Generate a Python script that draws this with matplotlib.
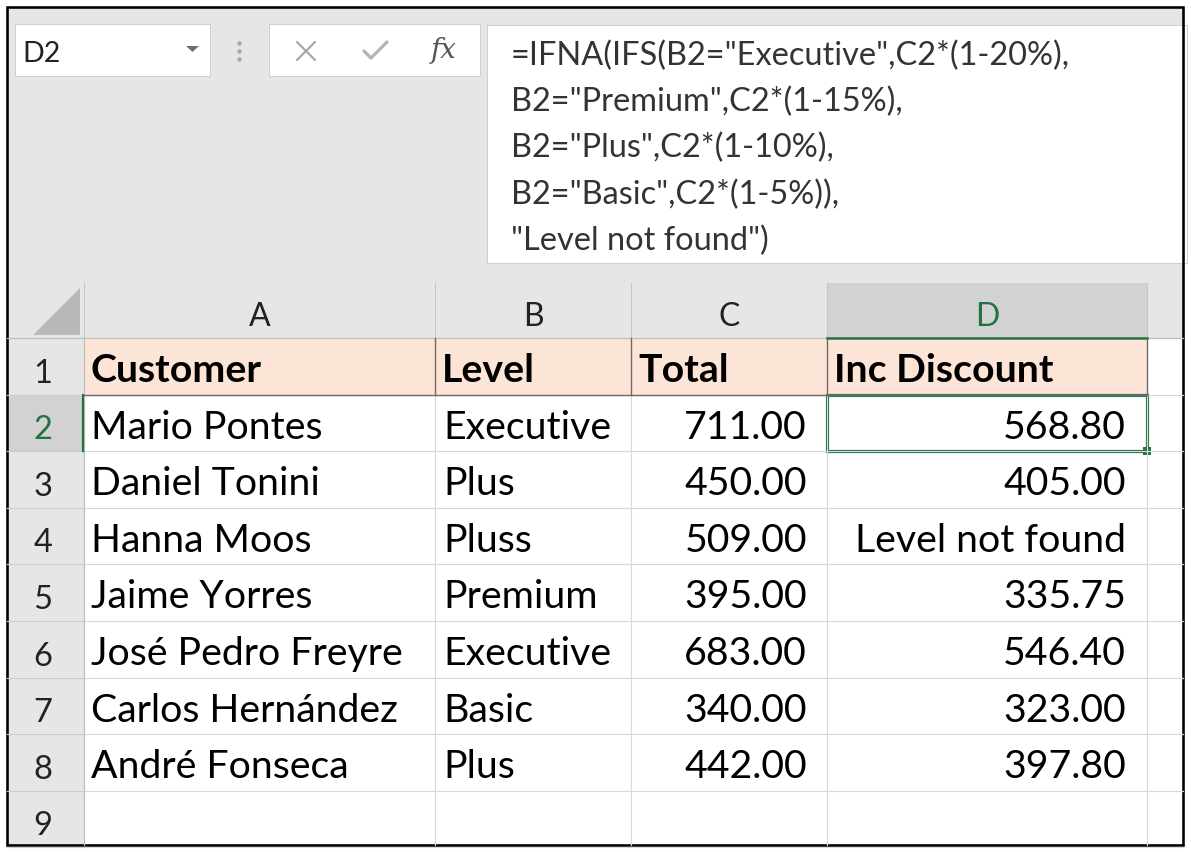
import matplotlib
matplotlib.use("agg")
import matplotlib.pyplot as plt
from matplotlib.patches import Rectangle, Polygon

# sheet content
name_box = "D2"
formula_lines = [
    '=IFNA(IFS(B2="Executive",C2*(1-20%),',
    'B2="Premium",C2*(1-15%),',
    'B2="Plus",C2*(1-10%),',
    'B2="Basic",C2*(1-5%)),',
    '"Level not found")',
]
col_letters = ["A", "B", "C", "D"]
headers = ["Customer", "Level", "Total", "Inc Discount"]
customers = ["Mario Pontes", "Daniel Tonini", "Hanna Moos", "Jaime Yorres",
             "José Pedro Freyre", "Carlos Hernández", "André Fonseca"]
levels = ["Executive", "Plus", "Pluss", "Premium", "Executive", "Basic", "Plus"]
totals = [711.00, 450.00, 509.00, 395.00, 683.00, 340.00, 442.00]
inc_discount = [568.80, 405.00, None, 335.75, 546.40, 323.00, 397.80]
not_found = "Level not found"
row_numbers = list(range(1, 10))

DPI = 100
W, H = 1191, 852
FONT = "Lato"
CELL_SIZE = 28.3

GREY = "#e6e6e6"
SEL_GREY = "#d2d2d2"
GREEN = "#217346"
PEACH = "#fce4d6"
GRID = "#d9d9d9"


def lw(p):
    # pixel width -> points
    return p * 72 / DPI


fig = plt.figure(figsize=(W / DPI, H / DPI), dpi=DPI)
ax = fig.add_axes([0, 0, 1, 1])
ax.set_xlim(0, W)
ax.set_ylim(H, 0)
ax.axis("off")

# geometry of the grid (pixels)
col_edges = [84, 435, 631, 827, 1147, 1183]
hdr_top, hdr_bot = 283, 338
row_h = 56.6
row_edges = [hdr_bot + i * row_h for i in range(10)]
left, right, top, bottom = 7, 1183, 7, 845

# grey chrome
ax.add_patch(Rectangle((left, top), right - left, hdr_bot - top, color=GREY, lw=0))
ax.add_patch(Rectangle((left, hdr_bot), col_edges[0] - left, bottom - hdr_bot, color=GREY, lw=0))

# name box, buttons box, formula box
ax.add_patch(Rectangle((15, 24), 195, 52, fc="white", ec="#cfcfcf", lw=lw(1)))
ax.add_patch(Rectangle((269, 24), 211, 52, fc="white", ec="#cfcfcf", lw=lw(1)))
ax.add_patch(Rectangle((487, 25), 700, 238, fc="white", ec="#cfcfcf", lw=lw(1)))
ax.text(22, 62, name_box, fontsize=20.5, family=FONT, color="#222222", va="baseline")
ax.add_patch(Polygon([(186, 46), (199, 46), (192.5, 52)], color="#6f6f6f", lw=0))
for yy in (43, 51, 59):
    ax.plot(239, yy, "o", ms=2.2, color="#a8a8a8")
ax.plot([297, 315], [42, 60], color="#a8a8a8", lw=lw(2.2), solid_capstyle="round")
ax.plot([297, 315], [60, 42], color="#a8a8a8", lw=lw(2.2), solid_capstyle="round")
ax.plot([364, 371, 387], [51, 58, 42], color="#b4b4b4", lw=lw(3.2), solid_capstyle="round")
ax.text(444, 51, "fx", fontsize=20, family="DejaVu Serif", style="italic",
        color="#555555", ha="center", va="center")

for i, line in enumerate(formula_lines):
    ax.text(511, 65 + 46.3 * i, line, fontsize=23.4, family=FONT,
            color="#333333", va="baseline")

# column headers
ax.add_patch(Rectangle((col_edges[3], hdr_top), col_edges[4] - col_edges[3],
                       hdr_bot - hdr_top, color=SEL_GREY, lw=0))
for x in col_edges[:5]:
    ax.plot([x, x], [hdr_top, hdr_bot], color="#c4c4c4", lw=lw(1))
for i, letter in enumerate(col_letters):
    cx = (col_edges[i] + col_edges[i + 1]) / 2
    ax.text(cx, hdr_bot - 12, letter, fontsize=23, family=FONT, ha="center",
            va="baseline", color=GREEN if letter == "D" else "#222222")
ax.plot([left, right], [hdr_bot, hdr_bot], color="#bdbdbd", lw=lw(1.2))
ax.plot([col_edges[3], col_edges[4]], [hdr_bot, hdr_bot], color=GREEN, lw=lw(2.5))
ax.add_patch(Polygon([(33, 335), (80, 335), (80, 288)], color="#b9b9b9", lw=0))

# header fill row 1
ax.add_patch(Rectangle((col_edges[0], row_edges[0]), col_edges[4] - col_edges[0],
                       row_h, color=PEACH, lw=0))

# row header for the active row
ax.add_patch(Rectangle((left, row_edges[1]), col_edges[0] - left, row_h, color=SEL_GREY, lw=0))

# gridlines
for y in row_edges[1:]:
    ax.plot([col_edges[0], right], [y, y], color=GRID, lw=lw(1.2))
    ax.plot([left, col_edges[0]], [y, y], color="#cdcdcd", lw=lw(1.2))
for x in col_edges[1:5]:
    ax.plot([x, x], [row_edges[1], bottom], color=GRID, lw=lw(1.2))
ax.plot([col_edges[0], col_edges[0]], [hdr_bot, bottom], color="#bdbdbd", lw=lw(1.2))
ax.plot([col_edges[0] - 1, col_edges[0] - 1], [row_edges[1], row_edges[2]], color=GREEN, lw=lw(2.2))

# dark borders on header cells
for x in col_edges[1:5]:
    ax.plot([x, x], [row_edges[0], row_edges[1]], color="#6e6a66", lw=lw(1.4))
ax.plot([col_edges[0], col_edges[4]], [row_edges[1], row_edges[1]], color="#6e6a66", lw=lw(1.4))

# row numbers
for i, n in enumerate(row_numbers):
    ax.text(43, row_edges[i + 1] - 12, str(n), fontsize=23.5, family=FONT,
            ha="center", va="baseline", color=GREEN if n == 2 else "#222222")

# header text
for i, h in enumerate(headers):
    ax.text(col_edges[i] + 7, row_edges[1] - 12.5, h, fontsize=CELL_SIZE, family=FONT,
            weight="bold", va="baseline", color="black")

# body
for r in range(len(customers)):
    base = row_edges[r + 2] - 12.5
    ax.text(col_edges[0] + 7, base, customers[r], fontsize=CELL_SIZE, family=FONT, va="baseline")
    ax.text(col_edges[1] + 8, base, levels[r], fontsize=CELL_SIZE, family=FONT, va="baseline")
    ax.text(col_edges[3] - 20, base, f"{totals[r]:.2f}", fontsize=CELL_SIZE, family=FONT,
            ha="right", va="baseline")
    v = inc_discount[r]
    txt = not_found if v is None else f"{v:.2f}"
    ax.text(col_edges[4] - 21, base, txt, fontsize=CELL_SIZE, family=FONT, ha="right", va="baseline")

# active cell D2
ax.add_patch(Rectangle((col_edges[3], row_edges[1]), col_edges[4] - col_edges[3], row_h,
                       fill=False, ec=GREEN, lw=lw(3.2)))
ax.add_patch(Rectangle((col_edges[4] - 4, row_edges[2] - 4), 8, 8, color=GREEN, lw=0))

# outer frame
ax.add_patch(Rectangle((left, top), right - left, bottom - top, fill=False,
                       ec="black", lw=lw(2.6)))

fig.savefig("out.png", dpi=DPI)
